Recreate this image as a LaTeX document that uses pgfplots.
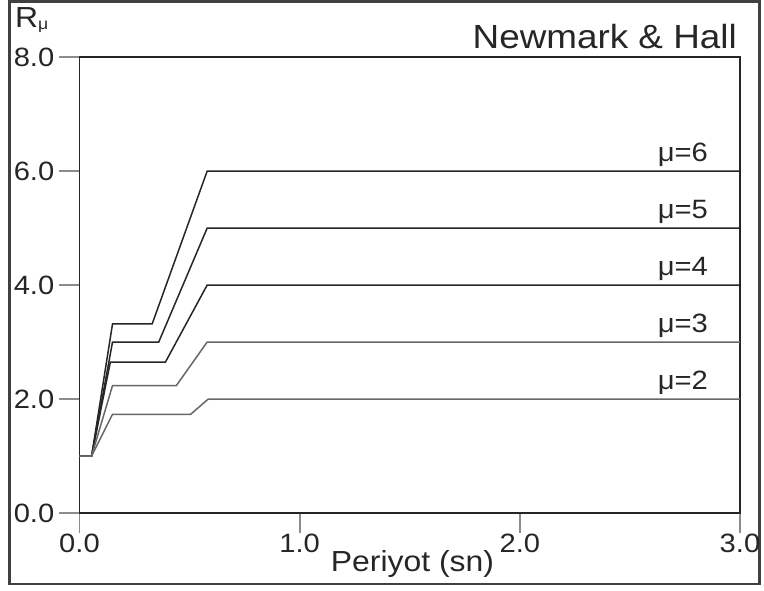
\documentclass[border=0pt]{standalone}
\usepackage{fontspec}
\setmainfont{Liberation Sans}[FakeStretch=1.1]
\usepackage{pgfplots}
\pgfplotsset{compat=1.18}
\definecolor{linec}{gray}{0.15}
\definecolor{tickc}{gray}{0.55}
\definecolor{framec}{gray}{0.25}
\tikzset{mulab/.style={anchor=base east, inner sep=0pt, font=\fontsize{26.5}{26.5}\selectfont, text=black!85, yshift=10pt}}
\begin{document}
\begin{tikzpicture}[x=1pt,y=1pt]
\path[use as bounding box] (-79.5,-77) rectangle (684.5,513);
\draw[framec, line width=2.5pt] (-70,-71) rectangle (680,511.5);
\begin{axis}[
  at={(0,0)}, anchor=south west,
  scale only axis, width=660.5pt, height=456pt,
  xmin=0, xmax=3, ymin=0, ymax=8,
  xtick={0,1,2,3}, xticklabels={0.0,1.0,2.0,3.0},
  ytick={0,2,4,6,8}, yticklabels={0.0,2.0,4.0,6.0,8.0},
  xtick pos=left, ytick pos=left,
  tick align=outside, major tick length=20pt,
  axis line style={black!85, line width=1.8pt},
  major tick style={tickc, line width=1.8pt},
  tick label style={font=\fontsize{26.5}{26.5}\selectfont, text=black!85},
  xticklabel style={anchor=north, inner sep=0pt, yshift=-1pt},
  yticklabel style={anchor=east, inner sep=0pt, xshift=-5pt},
  clip=false,
]
\addplot[linec, line width=1.5pt] coordinates {(0,1) (0.055,1) (0.15,3.317) (0.33,3.317) (0.58,6) (3,6)};
\addplot[linec, line width=1.5pt] coordinates {(0,1) (0.055,1) (0.15,3) (0.36,3) (0.58,5) (3,5)};
\addplot[linec, line width=1.5pt] coordinates {(0,1) (0.055,1) (0.14,2.646) (0.39,2.646) (0.58,4) (3,4)};
\addplot[linec!70!white, line width=1.5pt] coordinates {(0,1) (0.055,1) (0.15,2.236) (0.44,2.236) (0.58,3) (3,3)};
\addplot[linec!70!white, line width=1.5pt] coordinates {(0,1) (0.055,1) (0.15,1.732) (0.505,1.732) (0.585,2) (3,2)};
\node[mulab] at (axis cs:2.855,6) {μ=6};
\node[mulab] at (axis cs:2.855,5) {μ=5};
\node[mulab] at (axis cs:2.855,4) {μ=4};
\node[mulab] at (axis cs:2.855,3) {μ=3};
\node[mulab] at (axis cs:2.855,2) {μ=2};
\end{axis}
\node[anchor=base west, inner sep=0pt, font=\fontsize{29}{29}\selectfont, text=black!85] at (-64.5,485) {R\raisebox{-2pt}{\fontsize{16}{16}\selectfont μ}};
\node[anchor=base east, inner sep=0pt, font=\fontsize{33.5}{33.5}\selectfont, text=black!85] at (657.5,464) {Newmark \& Hall};
\node[anchor=base, inner sep=0pt, font=\fontsize{29}{29}\selectfont, text=black!85] at (333,-58) {Periyot (sn)};
\end{tikzpicture}
\end{document}
